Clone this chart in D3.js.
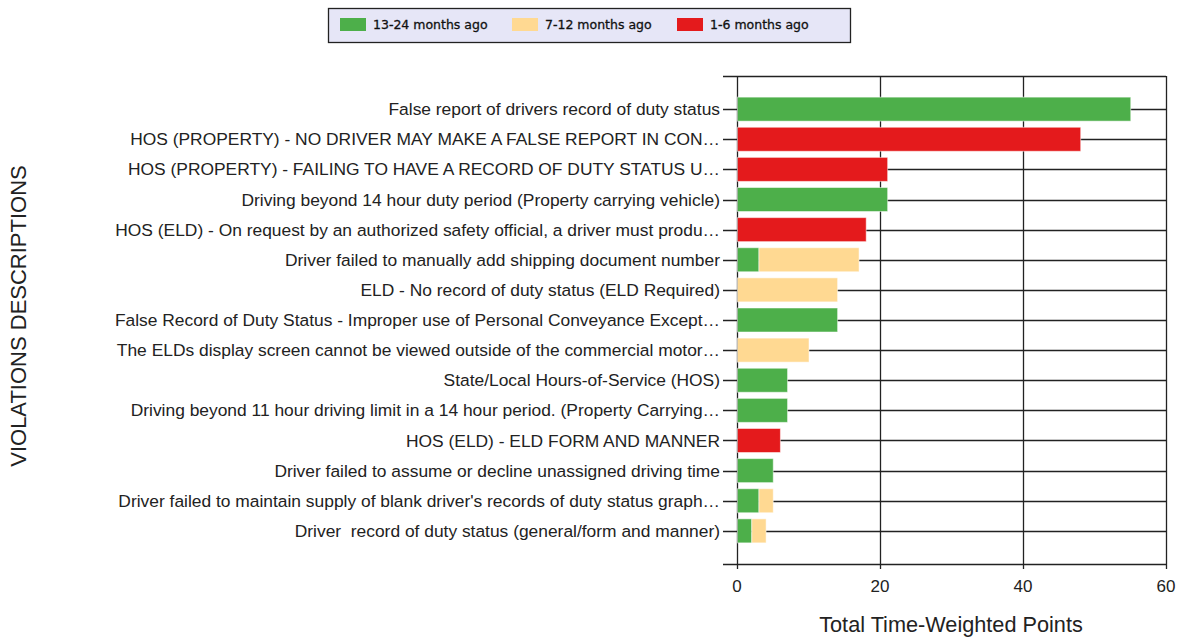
<!DOCTYPE html>
<html>
<head>
<meta charset="utf-8">
<script src="https://cdn.jsdelivr.net/npm/d3@7"></script>
<style>
  body { margin: 0; background: #fff; }
  svg { display: block; }
  text { white-space: pre; }
</style>
</head>
<body>
<svg width="1178" height="641"></svg>
<script>
// data
const violations = [
  'False report of drivers record of duty status',
  'HOS (PROPERTY) - NO DRIVER MAY MAKE A FALSE REPORT IN CON…',
  'HOS (PROPERTY) - FAILING TO HAVE A RECORD OF DUTY STATUS U…',
  'Driving beyond 14 hour duty period (Property carrying vehicle)',
  'HOS (ELD) - On request by an authorized safety official, a driver must produ…',
  'Driver failed to manually add shipping document number',
  'ELD - No record of duty status (ELD Required)',
  'False Record of Duty Status - Improper use of Personal Conveyance Except…',
  'The ELDs display screen cannot be viewed outside of the commercial motor…',
  'State/Local Hours-of-Service (HOS)',
  'Driving beyond 11 hour driving limit in a 14 hour period. (Property Carrying…',
  'HOS (ELD) - ELD FORM AND MANNER',
  'Driver failed to assume or decline unassigned driving time',
  "Driver failed to maintain supply of blank driver's records of duty status graph…",
  'Driver  record of duty status (general/form and manner)'
]
const periods = ['13-24 months ago', '7-12 months ago', '1-6 months ago']
const months13to24 = [55, 0, 0, 21, 0, 3, 0, 14, 0, 7, 7, 0, 5, 3, 2]
const months7to12 = [0, 0, 0, 0, 0, 14, 14, 0, 10, 0, 0, 0, 0, 2, 2]
const months1to6 = [0, 48, 21, 0, 18, 0, 0, 0, 0, 0, 0, 6, 0, 0, 0]
const xTicks = [0, 20, 40, 60]

const svg = d3.select('svg')
const colorScale = d3.scaleOrdinal()
        .domain(periods)
        .range(['#4daf4a', '#ffd992', '#e41a1c'])

const plotLeft = 737, plotRight = 1166, plotTop = 76, plotBottom = 564

const rows = violations.map((v, i) => ({
    name: v,
    [periods[0]]: months13to24[i],
    [periods[1]]: months7to12[i],
    [periods[2]]: months1to6[i]
}))
const stacked = d3.stack().keys(periods)(rows)

const x = d3.scaleLinear().domain([0, 60]).range([plotLeft, plotRight])
const y = d3.scalePoint().domain(violations).range([plotTop, plotBottom]).padding(1.1)
const barH = 24

// grid: horizontal lines at each row + frame
const grid = svg.append('g').attr('stroke', '#222').attr('stroke-width', 1.3)
grid.selectAll('line.h').data([plotTop, ...violations.map(v => y(v)), plotBottom])
    .enter().append('line')
        .attr('x1', plotLeft - 14).attr('x2', plotRight)
        .attr('y1', d => Math.round(d) + 0.5).attr('y2', d => Math.round(d) + 0.5)
grid.selectAll('line.v').data(xTicks)
    .enter().append('line')
        .attr('x1', d => Math.round(x(d)) + 0.5).attr('x2', d => Math.round(x(d)) + 0.5)
        .attr('y1', plotTop).attr('y2', plotBottom + 5)

// bars
svg.append('g').selectAll('g').data(stacked)
    .enter().append('g')
        .attr('fill', d => colorScale(d.key))
    .selectAll('rect').data(d => d.filter(s => s[1] > s[0]))
    .enter().append('rect')
        .attr('x', d => x(d[0]) + 0.5)
        .attr('y', d => y(d.data.name) - barH / 2)
        .attr('width', d => x(d[1]) - x(d[0]))
        .attr('height', barH)
        .attr('stroke', 'rgba(255,255,255,0.5)')
        .attr('stroke-width', 1)

// category labels
svg.append('g').selectAll('text').data(violations)
    .enter().append('text')
        .attr('x', 720)
        .attr('y', d => y(d))
        .attr('dy', '0.35em')
        .attr('text-anchor', 'end')
        .attr('font-family', 'Liberation Sans, Arial, sans-serif')
        .attr('font-size', 17.4)
        .attr('fill', '#222')
        .text(d => d)

// x tick labels
svg.append('g').selectAll('text').data(xTicks)
    .enter().append('text')
        .attr('x', d => x(d))
        .attr('y', 592)
        .attr('text-anchor', 'middle')
        .attr('font-family', 'Liberation Sans, Arial, sans-serif')
        .attr('font-size', 17)
        .attr('fill', '#222')
        .text(d => d)

// axis titles
svg.append('text')
    .attr('x', 951).attr('y', 632)
    .attr('text-anchor', 'middle')
    .attr('font-family', 'Liberation Sans, Arial, sans-serif')
    .attr('font-size', 21.7)
    .attr('fill', '#222')
    .text('Total Time-Weighted Points')

svg.append('text')
    .attr('transform', 'translate(26,316) rotate(-90)')
    .attr('text-anchor', 'middle')
    .attr('font-family', 'Liberation Sans, Arial, sans-serif')
    .attr('font-size', 22)
    .attr('fill', '#222')
    .text('VIOLATIONS DESCRIPTIONS')

// legend
const legend = svg.append('g')
legend.append('rect')
    .attr('x', 328.5).attr('y', 8.5).attr('width', 522).attr('height', 34)
    .attr('fill', '#e6e6f7').attr('stroke', '#222').attr('stroke-width', 1.3)
const legendX = [340, 512, 677]
const items = legend.selectAll('g.item').data(periods)
    .enter().append('g')
        .attr('transform', (d, i) => `translate(${legendX[i]},18)`)
items.append('rect')
    .attr('width', 26).attr('height', 13)
    .attr('fill', d => colorScale(d))
items.append('text')
    .attr('x', 33).attr('y', 7)
    .attr('dy', '0.35em')
    .attr('font-family', 'DejaVu Sans, Verdana, sans-serif')
    .attr('font-size', 12.5)
    .attr('fill', '#111')
    .attr('stroke', '#111')
    .attr('stroke-width', 0.3)
    .text(d => d)
</script>
</body>
</html>
